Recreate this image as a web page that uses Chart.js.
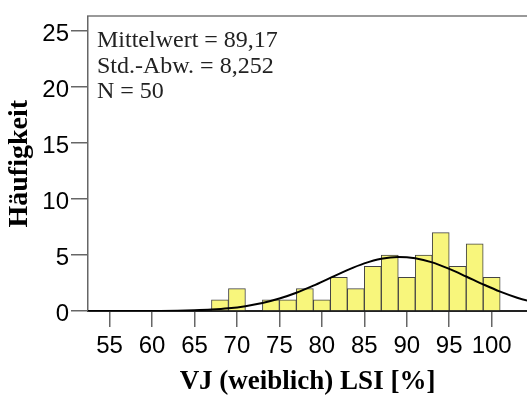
<!DOCTYPE html>
<html>
<head>
<meta charset="utf-8">
<script src="https://cdn.jsdelivr.net/npm/chart.js@4"></script>
<style>
  body { margin: 0; background: #fff; }
  #wrap { width: 527px; height: 403px; }
</style>
</head>
<body>
<div id="wrap"><canvas id="histChart" width="527" height="403"></canvas></div>
<script>
// Histogram bins (2-wide, centre values) and counts
const binCenters = [68, 70, 72, 74, 76, 78, 80, 82, 84, 86, 88, 90, 92, 94, 96, 98, 100];
const counts = [1, 2, 0, 1, 1, 2, 1, 3, 2, 4, 5, 3, 5, 7, 4, 6, 3];

// Normal curve
const curveX = [51, 53, 57, 61, 65, 67, 69, 71, 73, 75, 77, 79, 81, 83, 85, 87, 89, 91, 93, 95, 97, 99, 101, 103, 105, 107];
const curveY = [0, 0, 0, 0.01, 0.07, 0.13, 0.24, 0.43, 0.71, 1.11, 1.63, 2.26, 2.96, 3.65, 4.25, 4.67, 4.83, 4.71, 4.34, 3.76, 3.08, 2.38, 1.73, 1.19, 0.77, 0.47];

const xTicks = [55, 60, 65, 70, 75, 80, 85, 90, 95, 100];
const yTicks = [0, 5, 10, 15, 20, 25];
const statsLines = ['Mittelwert = 89,17', 'Std.-Abw. = 8,252', 'N = 50'];

const xMin = 52.46, xMax = 104.16;
const yMin = 0, yMax = 26.31;

// stats box in the upper left of the plot
const statsText = {
  id: 'statsText',
  afterDatasetsDraw(chart) {
    const ctx = chart.ctx;
    const area = chart.chartArea;
    ctx.save();
    ctx.fillStyle = '#222';
    ctx.font = '24px "Liberation Serif", "Times New Roman", serif';
    ctx.textAlign = 'left';
    ctx.textBaseline = 'alphabetic';
    statsLines.forEach((t, i) => {
      ctx.fillText(t, area.left + 9, area.top + 31 + i * 25.3);
    });
    ctx.restore();
  }
};

new Chart(document.getElementById('histChart'), {
  type: 'bar',
  data: {
    datasets: [{
      type: 'line',
      label: 'Normal',
      data: curveX.map((x, i) => ({ x: x, y: curveY[i] })),
      borderColor: '#000',
      borderWidth: 2,
      pointRadius: 0,
      fill: false,
      cubicInterpolationMode: 'monotone'
    }, {
      label: 'Häufigkeit',
      data: binCenters.map((x, i) => ({ x: x, y: counts[i] })),
      backgroundColor: '#f8f67c',
      borderColor: '#444',
      borderWidth: 1,
      barPercentage: 1,
      categoryPercentage: 1
    }]
  },
  options: {
    responsive: false,
    animation: false,
    layout: { padding: 0 },
    plugins: { legend: { display: false }, tooltip: { enabled: false } },
    scales: {
      x: {
        type: 'linear',
        position: 'bottom',
        min: xMin,
        max: xMax,
        offset: false,
        afterBuildTicks: s => { s.ticks = xTicks.map(v => ({ value: v })); },
        afterFit: s => { s.height = 92; },
        ticks: {
          color: '#000',
          font: { family: '"Liberation Sans", Arial, sans-serif', size: 24 },
          padding: 5,
          maxRotation: 0,
          autoSkip: false
        },
        grid: { drawOnChartArea: false, offset: false, tickLength: 16, color: '#666', lineWidth: 1.5 },
        border: { color: '#222', width: 2 },
        title: {
          display: true,
          text: 'VJ (weiblich) LSI [%]',
          color: '#000',
          font: { family: '"Liberation Serif", "Times New Roman", serif', size: 27, weight: 'bold' },
          padding: { bottom: 5, top: 0 }
        }
      },
      xTop: {
        type: 'linear',
        position: 'top',
        min: xMin,
        max: xMax,
        afterFit: s => { s.height = 9; },
        ticks: { display: false },
        grid: { drawOnChartArea: false, drawTicks: false },
        border: { color: '#999', width: 2 }
      },
      y: {
        type: 'linear',
        min: yMin,
        max: yMax,
        afterBuildTicks: s => { s.ticks = yTicks.map(v => ({ value: v })); },
        afterFit: s => { s.width = 88; },
        ticks: {
          color: '#000',
          font: { family: '"Liberation Sans", Arial, sans-serif', size: 24 },
          padding: 2,
          labelOffset: 3
        },
        grid: { drawOnChartArea: false, tickLength: 17, color: '#666', lineWidth: 1.5 },
        border: { color: '#666', width: 1.5 },
        title: {
          display: true,
          text: 'Häufigkeit',
          color: '#000',
          font: { family: '"Liberation Serif", "Times New Roman", serif', size: 28, weight: 'bold' },
          padding: { top: 3, bottom: 0 }
        }
      }
    }
  },
  plugins: [statsText]
});
</script>
</body>
</html>
